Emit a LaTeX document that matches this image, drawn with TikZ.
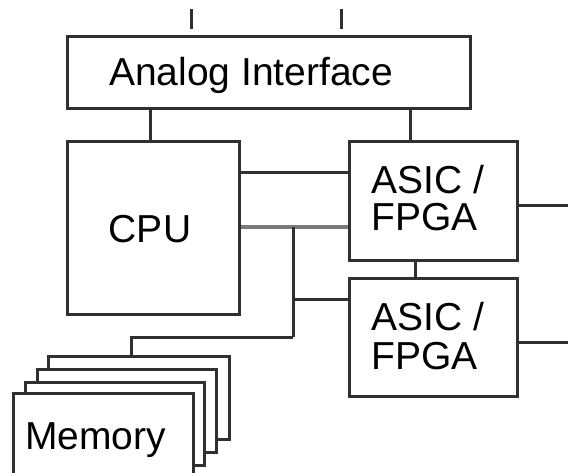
\documentclass[tikz,border=0pt]{standalone}
\usepackage{fontspec}
\setmainfont{Liberation Sans}
\definecolor{ln}{HTML}{303030}
\definecolor{bus}{HTML}{7A7A7A}
\tikzset{
  blk/.style={draw=ln, line width=3pt, fill=white, inner sep=0pt, anchor=north west},
  card/.style={draw=ln, line width=2.8pt, fill=white, inner sep=0pt, anchor=north west},
  wire/.style={draw=ln, line width=3pt},
  gbus/.style={draw=bus, line width=4.5pt},
  lbl/.style={inner sep=0pt, anchor=base west, font=\fontsize{39}{40}\selectfont},
}
\begin{document}
\begin{tikzpicture}[x=1pt,y=-1pt]
\clip (0,0) rectangle (568,472);
\fill[white] (0,0) rectangle (568,472);
% boxes
\node[blk, minimum width=403pt, minimum height=72pt] (ana) at (66,35) {};
\node[blk, minimum width=172pt, minimum height=173pt] (cpu) at (66,140) {};
\node[blk, minimum width=168pt, minimum height=119pt] (asa) at (348,140) {};
\node[blk, minimum width=168pt, minimum height=118pt] (asb) at (348,277) {};
% memory stack
\node[card, minimum width=181pt, minimum height=83pt] (m4) at (47,355) {};
\node[card, minimum width=179pt, minimum height=83pt] (m3) at (36,368) {};
\node[card, minimum width=179pt, minimum height=83pt] (m2) at (24,381) {};
\node[card, minimum width=180pt, minimum height=95pt] (m1) at (12,392) {};
% labels
\node[lbl] (tana) at (109,85) {Analog Interface};
\node[lbl, anchor=base] (tcpu) at (150,242) {CPU};
\node[lbl] (ta1) at (371,193) {ASIC /};
\node[lbl] (ta2) at (371,230) {FPGA};
\node[lbl] (tb1) at (371,330) {ASIC /};
\node[lbl] (tb2) at (371,369) {FPGA};
\node[lbl] (tmem) at (25,449) {Memory};
% free ends
\coordinate (k1) at (191,9);
\coordinate (k2) at (341,9);
\coordinate (k1e) at (191,29);
\coordinate (k2e) at (341,29);
\coordinate (ra) at (568,205);
\coordinate (rb) at (568,342);
\coordinate (bt) at (293,227);
\coordinate (bb) at (293,337);
\coordinate (bm) at (293,299);
\coordinate (mc) at (131.5,337);
% connectors
\draw[wire] (k1) -- (k1e);
\draw[wire] (k2) -- (k2e);
\draw[wire] (ana.south -| 150,0) -- (cpu.north -| 150,0);
\draw[wire] (ana.south -| 410,0) -- (asa.north -| 410,0);
\draw[wire] (cpu.east |- 0,172) -- (asa.west |- 0,172);
\draw[gbus] (cpu.east |- 0,227) -- (asa.west |- 0,227);
\draw[wire] (bt) -- (bb);
\draw[wire] (bm) -- (asb.west |- bm);
\draw[wire] (bb) -- (mc) -- (m4.north -| mc);
\draw[wire] (asa.south -| 415,0) -- (asb.north -| 415,0);
\draw[wire] (asa.east |- ra) -- (ra);
\draw[wire] (asb.east |- rb) -- (rb);
\end{tikzpicture}
\end{document}
